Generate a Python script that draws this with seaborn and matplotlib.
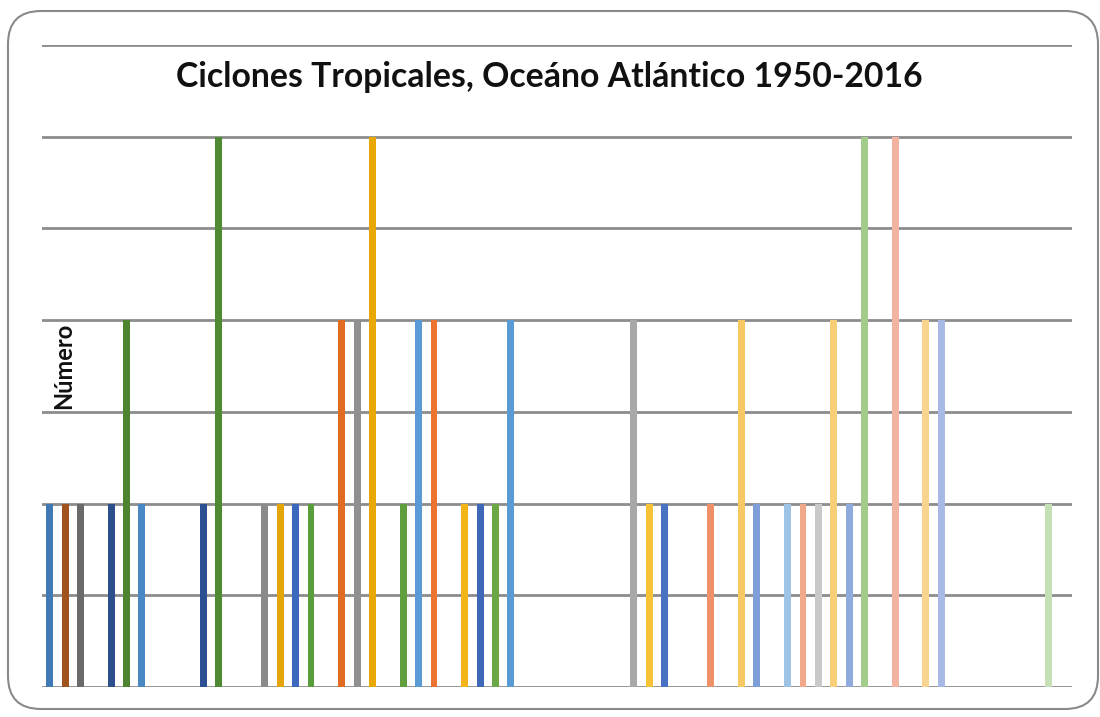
import numpy as np
import pandas as pd
import matplotlib
matplotlib.use("Agg")
import matplotlib.pyplot as plt
from matplotlib.patches import FancyBboxPatch
import seaborn as sns

# Data: years with tropical cyclones and the number counted
all_years = list(range(1950, 2017))
years = [1950, 1951, 1952, 1954, 1955, 1956, 1960, 1961, 1964, 1965, 1966,
         1967, 1969, 1970, 1971, 1973, 1974, 1975, 1977, 1978, 1979, 1980,
         1988, 1989, 1990, 1993, 1995, 1996, 1998, 1999, 2000, 2001, 2002,
         2003, 2005, 2007, 2008, 2015]
counts = [2, 2, 2, 2, 4, 2, 2, 6, 2, 2, 2,
          2, 4, 4, 6, 2, 4, 4, 2, 2, 2, 4,
          4, 2, 2, 2, 4, 2, 2, 2, 2, 4, 2,
          6, 6, 4, 4, 2]

# colours as drawn in the original spreadsheet chart
bar_colors = ['#3f7ab5', '#a0521f', '#6a6a6a', '#2d4f8c', '#4e8430', '#4a88c4',
              '#2a4f92', '#4f8a32', '#8a8a8a', '#e3a50a', '#3c68bd', '#5a9e3c',
              '#e06c24', '#909090', '#e8a908', '#5e9e3c', '#5b9bd5', '#ea7430',
              '#f2b418', '#4068b8', '#6aa845', '#5b9bd5', '#a8a8a8', '#f7c235',
              '#4a72c4', '#ee9068', '#f6c965', '#7e9ed8', '#9dc3e6', '#f2a88a',
              '#c9c9c9', '#f6cf78', '#8faadc', '#a3cb8a', '#f2b4a0', '#f8d490',
              '#a9b9e6', '#c5e0b4']

df = pd.DataFrame({'year': years, 'count': counts}).set_index('year')
df = df.reindex(all_years, fill_value=0).reset_index()
df['year'] = df['year'].astype(str)

palette = {str(y): '#ffffff' for y in all_years}
for y, c in zip(years, bar_colors):
    palette[str(y)] = c

fig = plt.figure(figsize=(11, 7.17), dpi=100)
ax = fig.add_axes([42 / 1100, 1 - 687 / 717, 1030 / 1100, 642 / 717])

sns.barplot(data=df, x='year', y='count', hue='year', palette=palette,
            order=[str(y) for y in all_years], hue_order=[str(y) for y in all_years],
            dodge=False, legend=False, width=0.45, linewidth=0, saturation=1,
            ax=ax, zorder=3)

ax.set_xlim(-0.5, len(all_years) - 0.5)
ax.set_ylim(0, 7)
ax.set_yticks(range(0, 8))
ax.grid(axis='y', color='#8c8c8c', linewidth=2, zorder=0)
ax.grid(axis='x', visible=False)
ax.tick_params(left=False, bottom=False, labelleft=False, labelbottom=False)
ax.set_xlabel('')
ax.set_ylabel('')
for s in ax.spines.values():
    s.set_visible(False)
ax.set_facecolor('white')

fig.text(549 / 1100, 1 - 77 / 717, 'Ciclones Tropicales, Oceáno Atlántico 1950-2016',
         ha='center', va='center', fontsize=24.3, fontweight='bold',
         family=['Lato', 'DejaVu Sans'], color='#111111')
fig.text(64 / 1100, 1 - 366 / 717, 'Número', rotation=90, ha='center', va='center',
         fontsize=17, fontweight='bold', family=['Lato', 'DejaVu Sans'], color='#111111')

# rounded chart-area border
border = FancyBboxPatch((8 / 1100, 8 / 717), 1090 / 1100, 698 / 717,
                        boxstyle='round,pad=0,rounding_size=0.03',
                        transform=fig.transFigure, facecolor='none',
                        edgecolor='#8a8a8a', linewidth=1.5, mutation_aspect=1100 / 717)
fig.patches.append(border)

fig.savefig('out.png', dpi=100)
